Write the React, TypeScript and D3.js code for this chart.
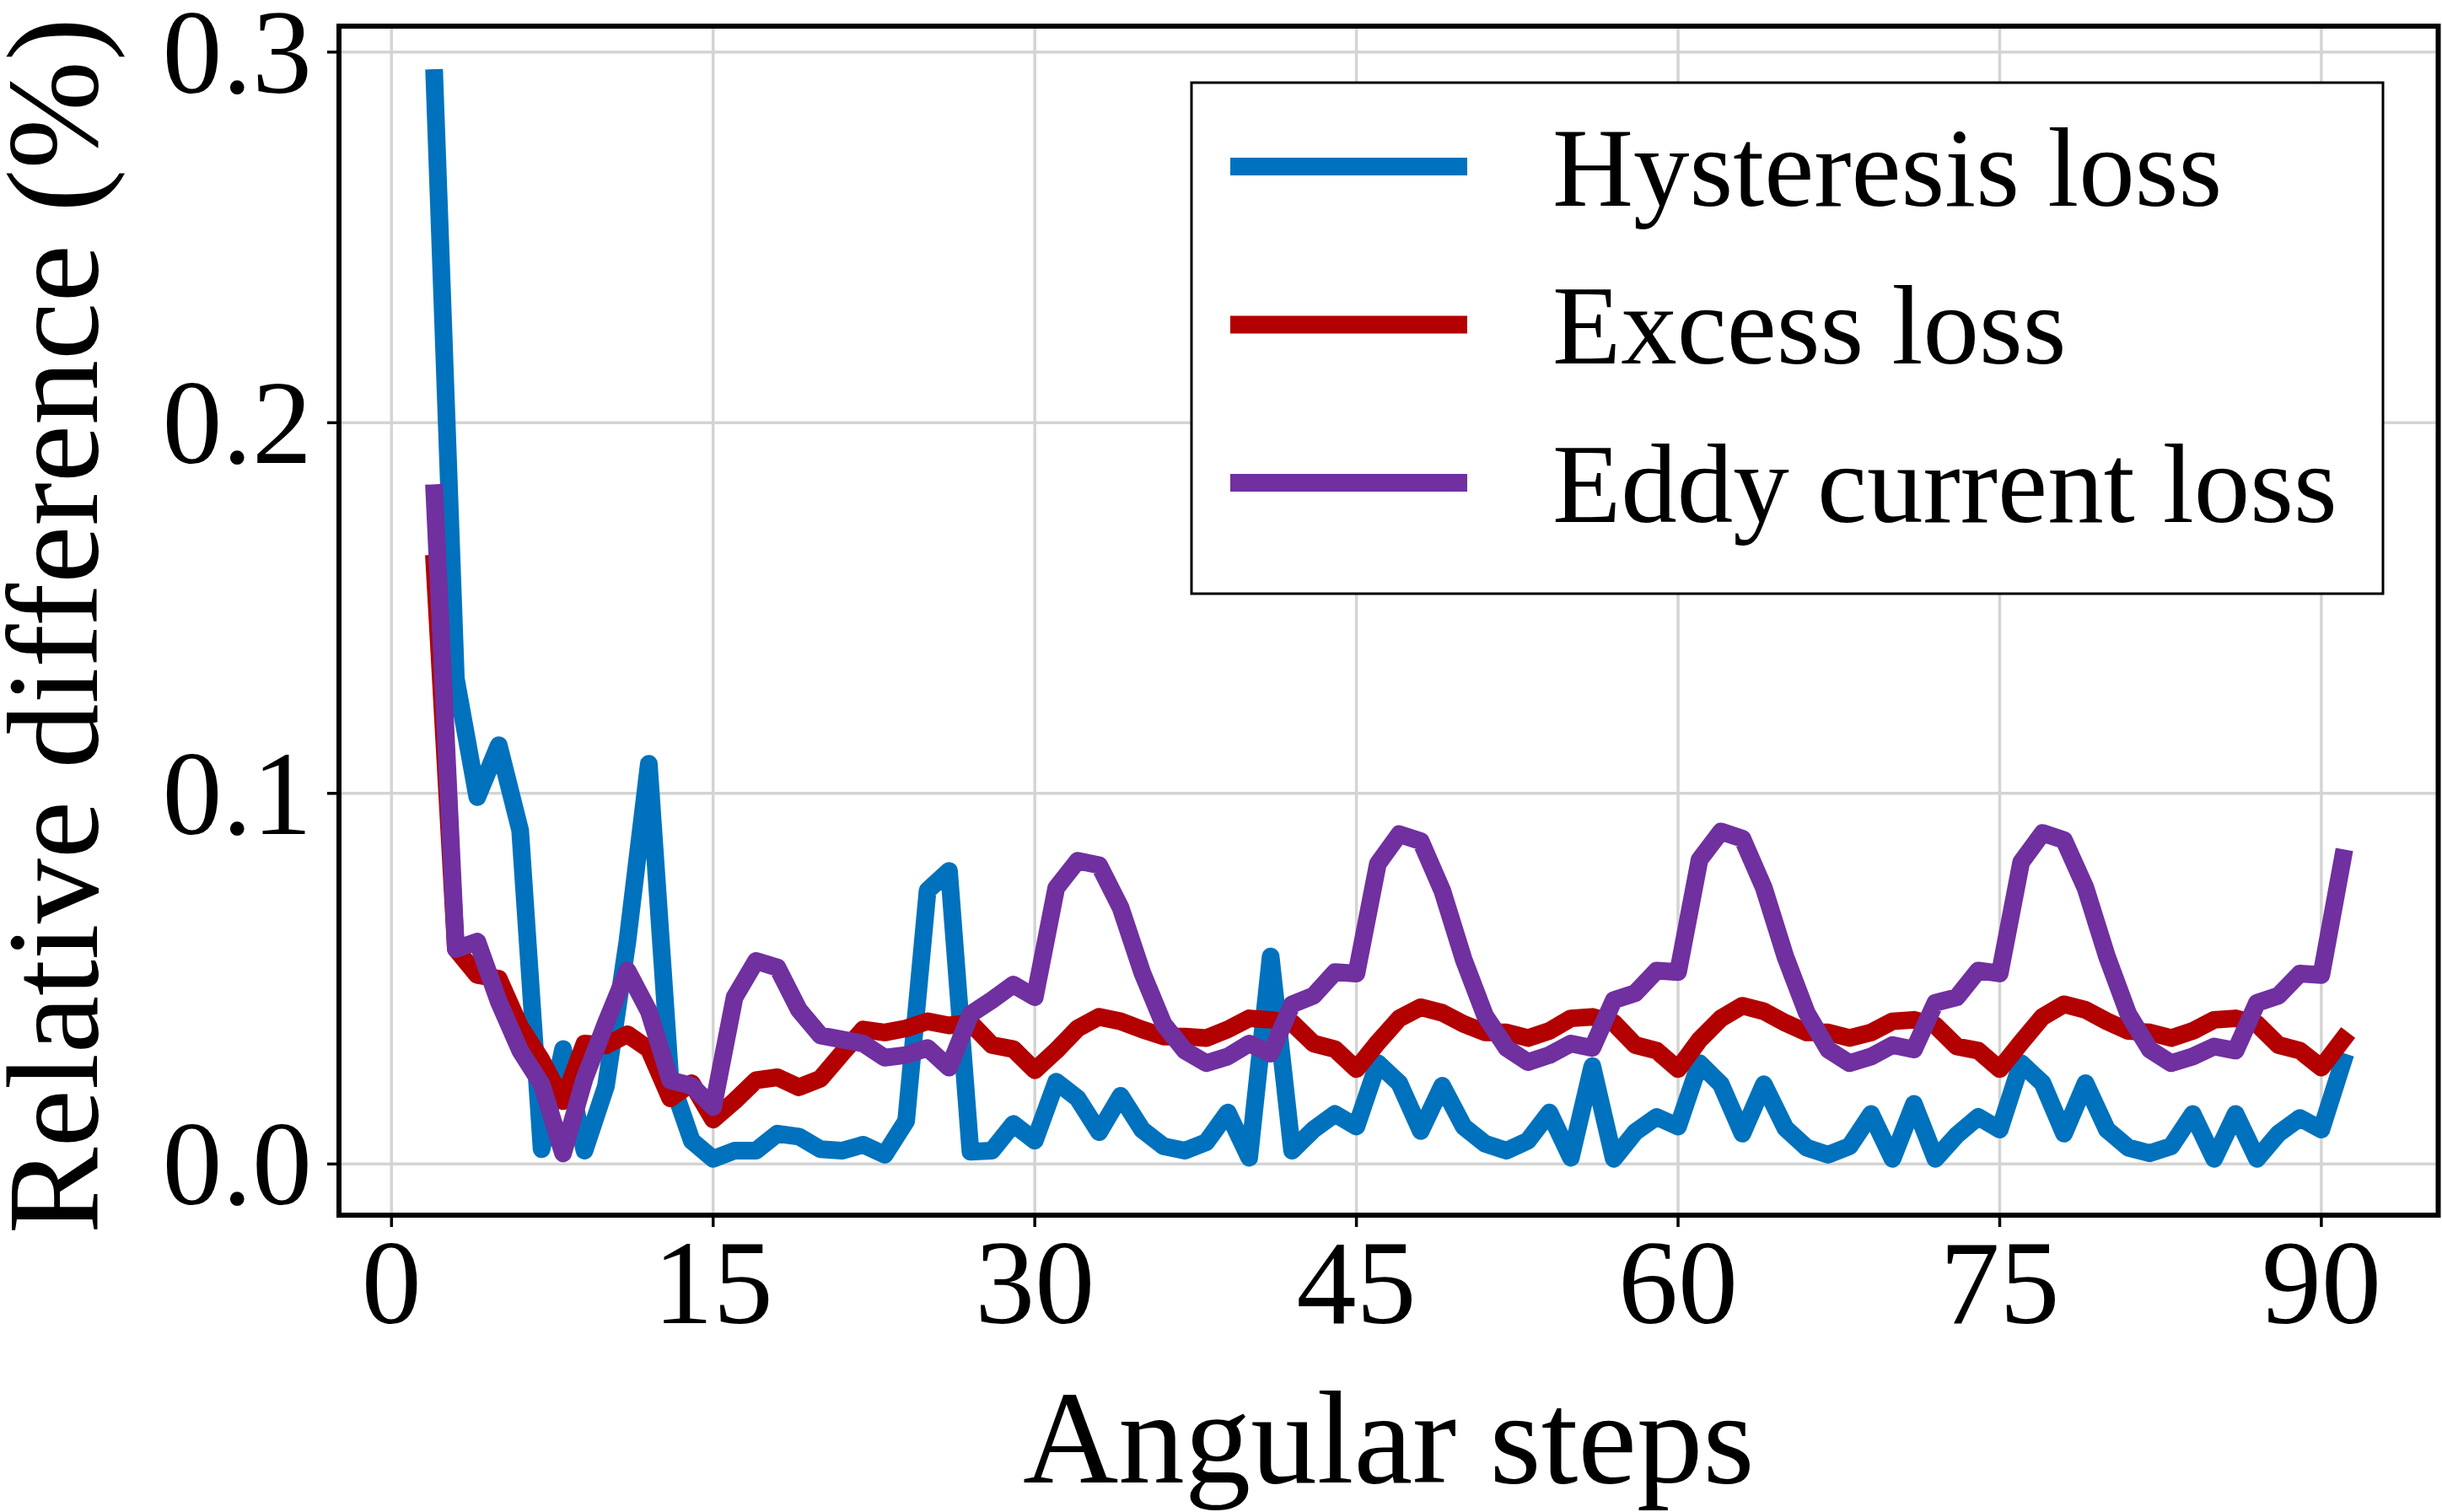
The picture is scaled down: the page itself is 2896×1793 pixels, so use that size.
import React from "react";
import * as d3 from "d3";

// angular step index for every sample (2..91)
const angularSteps: number[] = d3.range(2, 92);

const hysteresisLoss: number[] = [
  0.293, 0.131, 0.099, 0.113, 0.090, 0.004, 0.031, 0.0036, 0.021, 0.060,
  0.108, 0.023, 0.0063, 0.0014, 0.0036, 0.0036, 0.0082, 0.0074, 0.004, 0.0036,
  0.0052, 0.0025, 0.0116, 0.0738, 0.0791, 0.0033, 0.0036, 0.0108, 0.0063, 0.0222,
  0.0177, 0.0086, 0.0184, 0.0093, 0.0048, 0.0036, 0.0059, 0.0139, 0.0017, 0.056,
  0.0036, 0.0093, 0.0135, 0.0101, 0.0272, 0.0218, 0.0089, 0.0211, 0.0101, 0.0055,
  0.0036, 0.0063, 0.0139, 0.0017, 0.0264, 0.0014, 0.0086, 0.0127, 0.0101, 0.0272,
  0.0215, 0.0082, 0.0215, 0.0097, 0.0044, 0.0025, 0.0048, 0.0135, 0.0014, 0.0162,
  0.0014, 0.0078, 0.0127, 0.0093, 0.0272, 0.0218, 0.0082, 0.0218, 0.0093, 0.0044,
  0.0029, 0.0048, 0.0135, 0.0014, 0.0135, 0.0014, 0.0082, 0.0124, 0.0093, 0.0275,
];

const excessLoss: number[] = [
  0.162, 0.058, 0.051, 0.050, 0.037, 0.028, 0.017, 0.0325, 0.032, 0.035,
  0.031, 0.0177, 0.0218, 0.012, 0.017, 0.0226, 0.0234, 0.0207, 0.023, 0.0298,
  0.0363, 0.0355, 0.0366, 0.0385, 0.0374, 0.0381, 0.0321, 0.031, 0.0253, 0.0306,
  0.0366, 0.0397, 0.0385, 0.0363, 0.0344, 0.0344, 0.034, 0.0363, 0.0393, 0.0389,
  0.0381, 0.0325, 0.031, 0.0256, 0.0328, 0.0393, 0.0423, 0.0408, 0.0378, 0.0355,
  0.0355, 0.034, 0.0359, 0.0393, 0.0397, 0.0381, 0.0321, 0.0306, 0.0256, 0.0335,
  0.0393, 0.0427, 0.0412, 0.0381, 0.0355, 0.0355, 0.034, 0.0355, 0.0385, 0.0389,
  0.0374, 0.0317, 0.0306, 0.0256, 0.0328, 0.0397, 0.0431, 0.0416, 0.0385, 0.0359,
  0.0355, 0.034, 0.0359, 0.0389, 0.0393, 0.0378, 0.0321, 0.0306, 0.026, 0.0336,
];

const eddyCurrentLoss: number[] = [
  0.181, 0.058, 0.060, 0.0438, 0.0306, 0.0215, 0.0029, 0.023, 0.0381, 0.0522,
  0.0412, 0.0226, 0.0211, 0.0154, 0.045, 0.0548, 0.053, 0.0416, 0.0347, 0.0336,
  0.0325, 0.0287, 0.0294, 0.0313, 0.026, 0.0404, 0.0442, 0.0484, 0.045, 0.0745,
  0.0818, 0.0806, 0.0692, 0.0518, 0.0378, 0.0306, 0.0272, 0.029, 0.0325, 0.0298,
  0.0431, 0.0454, 0.0518, 0.0514, 0.081, 0.089, 0.0871, 0.0738, 0.0552, 0.040,
  0.0313, 0.0275, 0.0294, 0.0325, 0.0313, 0.0442, 0.0461, 0.0522, 0.0518, 0.0821,
  0.0897, 0.0878, 0.0745, 0.056, 0.0408, 0.0309, 0.0272, 0.029, 0.0321, 0.0309,
  0.0435, 0.045, 0.0522, 0.0514, 0.0814, 0.0893, 0.0874, 0.0745, 0.056, 0.0404,
  0.0309, 0.0272, 0.029, 0.0317, 0.0306, 0.0435, 0.0454, 0.0514, 0.051, 0.0825,
];

const seriesNames = ["Hysteresis loss", "Excess loss", "Eddy current loss"];
const seriesColors = ["#0072BD", "#B30000", "#7030A0"];
const xTicks = [0, 15, 30, 45, 60, 75, 90];
const yTicks = [0.0, 0.1, 0.2, 0.3];

const W = 2896;
const H = 1793;
const frame = { left: 402, right: 2891.5, top: 31, bottom: 1441 };
const serif = "'Liberation Serif', 'Times New Roman', Times, serif";
const lineWidth = 21;

const App: React.FC = () => {
  const series = [hysteresisLoss, excessLoss, eddyCurrentLoss];

  const x = d3.scaleLinear().domain([-2.45, 95.45]).range([frame.left, frame.right]);
  const y = d3.scaleLinear().domain([-0.0138, 0.307]).range([frame.bottom, frame.top]);

  const line = d3
    .line<number>()
    .x((_, i) => x(angularSteps[i]))
    .y((d) => y(d));

  // legend box
  const lg = { x0: 1413, y0: 98, x1: 2826, y1: 704 };
  const lgRows = [197.6, 385, 572.6];

  return (
    <svg
      width={W}
      height={H}
      style={{ position: "absolute", left: 0, top: 0, background: "#fff" }}
    >
      <rect x={0} y={0} width={W} height={H} fill="#fff" />

      {/* grid */}
      <g stroke="#d4d4d4" strokeWidth={3.5}>
        {xTicks.map((t) => (
          <line key={"gx" + t} x1={x(t)} x2={x(t)} y1={frame.top} y2={frame.bottom} />
        ))}
        {yTicks.map((t) => (
          <line key={"gy" + t} x1={frame.left} x2={frame.right} y1={y(t)} y2={y(t)} />
        ))}
      </g>

      {/* data lines */}
      <g fill="none" strokeWidth={lineWidth} strokeLinejoin="round" strokeLinecap="square">
        {series.map((s, i) => (
          <path key={seriesNames[i]} d={line(s) ?? ""} stroke={seriesColors[i]} />
        ))}
      </g>

      {/* axes frame */}
      <rect
        x={frame.left}
        y={frame.top}
        width={frame.right - frame.left}
        height={frame.bottom - frame.top}
        fill="none"
        stroke="#000"
        strokeWidth={6}
      />

      {/* ticks */}
      <g stroke="#000" strokeWidth={3.5}>
        {xTicks.map((t) => (
          <line key={"tx" + t} x1={x(t)} x2={x(t)} y1={frame.bottom} y2={frame.bottom + 14} />
        ))}
        {yTicks.map((t) => (
          <line key={"ty" + t} x1={frame.left - 14} x2={frame.left} y1={y(t)} y2={y(t)} />
        ))}
      </g>

      <g fontFamily={serif} fontSize={142} fill="#000">
        {xTicks.map((t) => (
          <text key={"lx" + t} x={x(t)} y={1569} textAnchor="middle">
            {t}
          </text>
        ))}
        {yTicks.map((t) => (
          <text key={"ly" + t} x={370} y={y(t) + 48} textAnchor="end">
            {d3.format(".1f")(t)}
          </text>
        ))}
      </g>

      {/* axis titles */}
      <text
        x={(frame.left + frame.right) / 2}
        y={1758}
        textAnchor="middle"
        fontFamily={serif}
        fontSize={157}
      >
        Angular steps
      </text>
      <text
        transform={`translate(115, ${(frame.top + frame.bottom) / 2 + 6}) rotate(-90)`}
        textAnchor="middle"
        fontFamily={serif}
        fontSize={154}
      >
        Relative difference (%)
      </text>

      {/* legend */}
      <rect
        x={lg.x0}
        y={lg.y0}
        width={lg.x1 - lg.x0}
        height={lg.y1 - lg.y0}
        fill="#fff"
        stroke="#000"
        strokeWidth={3}
      />
      {seriesNames.map((name, i) => (
        <g key={"lg" + name}>
          <line
            x1={1459}
            x2={1740}
            y1={lgRows[i]}
            y2={lgRows[i]}
            stroke={seriesColors[i]}
            strokeWidth={lineWidth}
          />
          <text x={1841} y={lgRows[i] + 46} fontFamily={serif} fontSize={133}>
            {name}
          </text>
        </g>
      ))}
    </svg>
  );
};

export default App;
